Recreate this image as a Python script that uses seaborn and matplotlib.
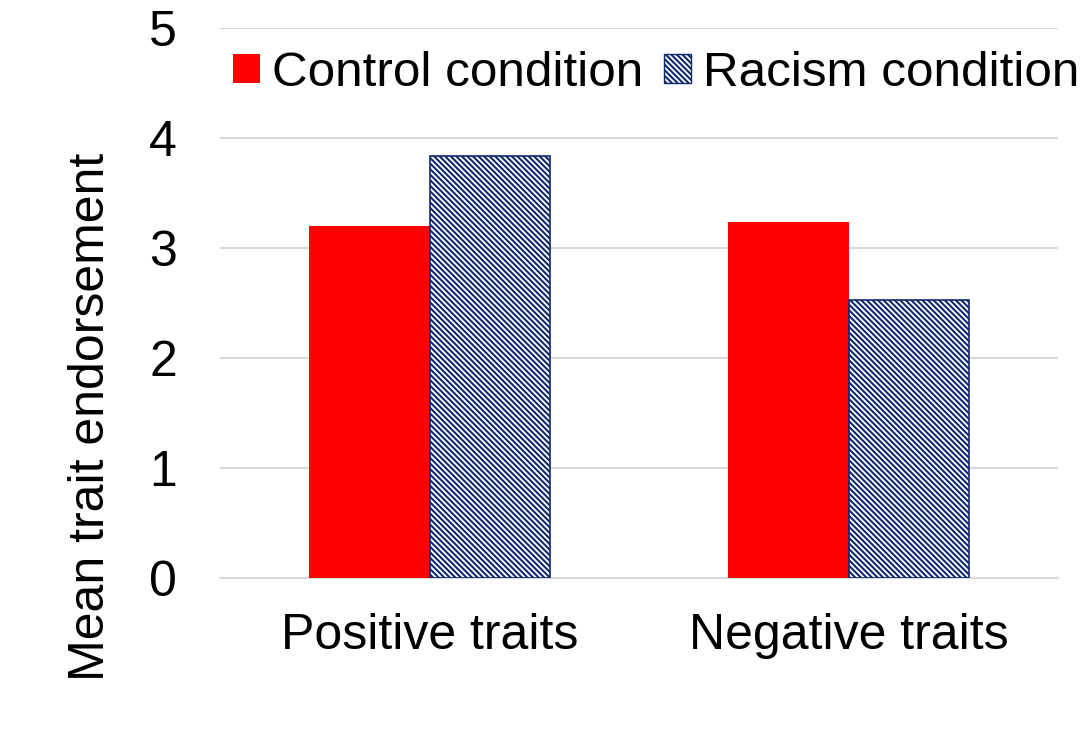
import matplotlib
matplotlib.use("Agg")
import matplotlib.pyplot as plt
import seaborn as sns
import pandas as pd
from matplotlib.patches import Patch

categories = ["Positive traits", "Negative traits"]
conditions = ["Control condition", "Racism condition"]
control_values = [3.20, 3.24]
racism_values = [3.84, 2.53]
y_ticks = [0, 1, 2, 3, 4, 5]

df = pd.DataFrame({
    "trait": categories * 2,
    "condition": [conditions[0]] * 2 + [conditions[1]] * 2,
    "value": control_values + racism_values,
})

sns.set_theme(style="white")
plt.rcParams["font.family"] = ["Liberation Sans", "DejaVu Sans"]
plt.rcParams["hatch.linewidth"] = 1.5
plt.rcParams["text.color"] = "black"

RED = "#FF0000"
NAVY = "#102A6E"
HATCH = "\\" * 6

fig = plt.figure(figsize=(10.91, 7.29), dpi=100)
ax = fig.add_axes([220 / 1091, 1 - 578 / 729, 838 / 1091, 550 / 729])

sns.barplot(data=df, x="trait", y="value", hue="condition", order=categories,
            hue_order=conditions, palette={conditions[0]: RED, conditions[1]: "white"},
            width=0.573, gap=0, saturation=1, ax=ax, legend=False, zorder=3)

for bar in ax.containers[0]:
    bar.set_edgecolor(RED)
    bar.set_linewidth(0)
for bar in ax.containers[1]:
    bar.set_facecolor("white")
    bar.set_edgecolor(NAVY)
    bar.set_linewidth(1.2)
    bar.set_hatch(HATCH)

ax.set_xlim(-0.5, 1.5)
ax.set_ylim(0, 5)
ax.set_yticks(y_ticks)
ax.set_yticklabels([str(t) for t in y_ticks])
ax.yaxis.grid(True, color="#D9D9D9", linewidth=1.5, zorder=0)
ax.set_axisbelow(True)
for s in ["left", "right", "top"]:
    ax.spines[s].set_visible(False)
ax.spines["bottom"].set_color("#D9D9D9")
ax.spines["bottom"].set_linewidth(1.5)

ax.tick_params(axis="both", length=0, labelsize=36, colors="black")
ax.tick_params(axis="x", pad=25)
ax.tick_params(axis="y", pad=31)
ax.set_xlabel("")
ax.set_ylabel("Mean trait endorsement", fontsize=36, color="black")
ax.yaxis.set_label_coords(-0.127, 0.293)

handles = [Patch(facecolor=RED, edgecolor=RED, linewidth=0),
           Patch(facecolor="white", edgecolor=NAVY, hatch=HATCH, linewidth=1.0)]
fig.legend(handles, conditions, loc="center left",
           bbox_to_anchor=(233 / 1091, 1 - 73.5 / 729), ncol=2, frameon=False,
           fontsize=35.6, labelcolor="black", handlelength=0.55, handleheight=0.55,
           handletextpad=0.24, columnspacing=0.42, borderpad=0, borderaxespad=0)

fig.savefig("out.png", dpi=100)
